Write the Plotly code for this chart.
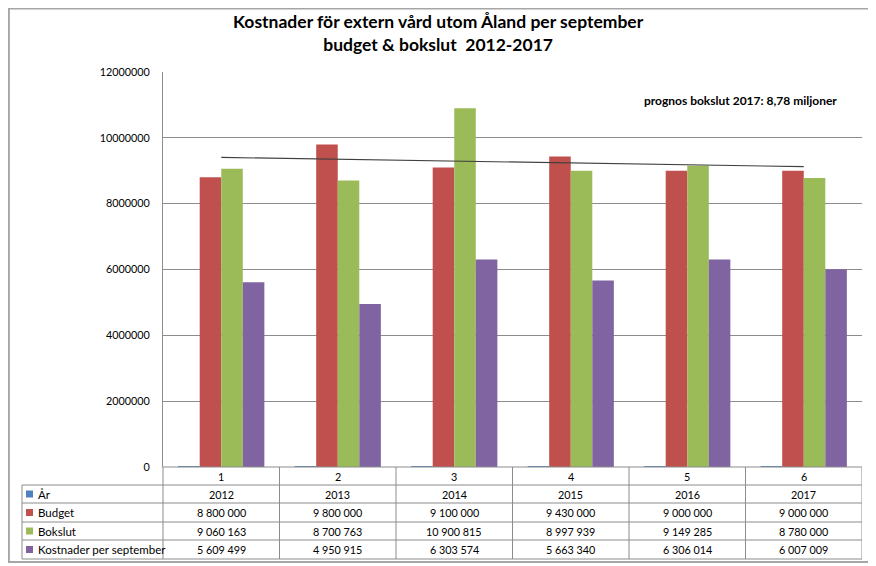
import numpy as np
import plotly.graph_objects as go

W, H = 876, 566
OFF = 8  # sidans marginal i webbläsaren

kategorier = [1, 2, 3, 4, 5, 6]
ar = [2012, 2013, 2014, 2015, 2016, 2017]
budget = [8800000, 9800000, 9100000, 9430000, 9000000, 9000000]
bokslut = [9060163, 8700763, 10900815, 8997939, 9149285, 8780000]
kostnader_sep = [5609499, 4950915, 6303574, 5663340, 6306014, 6007009]

serier = ["År", "Budget", "Bokslut", "Kostnader per september"]
farger = ["#4F81BD", "#C0504D", "#9BBB59", "#8064A2"]
varden = [ar, budget, bokslut, kostnader_sep]

FONT = "Lato"
GRID = "#8C8C8C"


def py(pix):
    return 1 - (pix - OFF) / H


def px_(pix):
    return (pix - OFF) / W


fig = go.Figure()
for namn, farg, v in zip(serier, farger, varden):
    fig.add_trace(go.Bar(x=kategorier, y=v, name=namn, marker_color=farg,
                         marker_line_width=0))

# linjär trend för bokslut
k, m = np.polyfit(kategorier, bokslut, 1)
trend = [k * x + m for x in kategorier]
fig.add_trace(go.Scatter(x=kategorier, y=trend, mode="lines",
                         line=dict(color="#404040", width=1.2), showlegend=False))

fig.update_layout(
    width=W, height=H,
    margin=dict(l=0, r=0, t=0, b=0),
    paper_bgcolor="white", plot_bgcolor="white",
    barmode="group", bargap=0.26, bargroupgap=0,
    showlegend=False,
    font=dict(family=FONT, size=12, color="#000000"),
    xaxis=dict(domain=[px_(163), px_(862)], range=[0.5, 6.5],
               showticklabels=False, showgrid=False, zeroline=False,
               showline=False),
    yaxis=dict(domain=[py(467), py(72)], range=[0, 12000000],
               dtick=2000000, tickformat="d", showgrid=True,
               gridcolor=GRID, gridwidth=1, zeroline=False,
               showline=True, linecolor=GRID, linewidth=1,
               ticks="", ticklabelstandoff=10, automargin=False,
               tickfont=dict(family=FONT, size=10.8, color="#000000")),
)

# titel
fig.add_annotation(x=px_(438), y=py(33), xref="paper", yref="paper",
                   text="<b>Kostnader för extern vård utom Åland per september<br>"
                        "budget &amp; bokslut  2012-2017</b>",
                   showarrow=False, font=dict(family=FONT, size=17.5),
                   align="center", xanchor="center", yanchor="middle")

fig.add_annotation(x=px_(740), y=py(100), xref="paper", yref="paper",
                   text="<b>prognos bokslut 2017: 8,78 miljoner</b>",
                   showarrow=False, font=dict(family=FONT, size=12),
                   xanchor="center", yanchor="middle")

# datatabell
rad_linjer = [485, 503, 522, 540, 559]
linje = dict(color=GRID, width=1)
fig.add_shape(type="line", xref="paper", yref="paper",
              x0=px_(163), x1=px_(862), y0=py(467), y1=py(467), line=linje)
for r in rad_linjer:
    fig.add_shape(type="line", xref="paper", yref="paper",
                  x0=px_(22), x1=px_(862), y0=py(r), y1=py(r), line=linje)
fig.add_shape(type="line", xref="paper", yref="paper",
              x0=px_(22), x1=px_(22), y0=py(485), y1=py(559), line=linje)
fig.add_shape(type="line", xref="paper", yref="paper",
              x0=px_(163), x1=px_(163), y0=py(467), y1=py(559), line=linje)
for c in kategorier:
    fig.add_shape(type="line", xref="x", yref="paper",
                  x0=c + 0.5, x1=c + 0.5, y0=py(467), y1=py(559), line=linje)

rad_mitt = [476, 494, 512.5, 531, 549.5]


def tal(v):
    return f"{v:,}".replace(",", " ")


def cell(x, y, text, xref="x", xanchor="center", size=10.8):
    fig.add_annotation(x=x, y=y, xref=xref, yref="paper", text=text,
                       showarrow=False, xanchor=xanchor, yanchor="middle",
                       font=dict(family=FONT, size=size))


for c in kategorier:
    cell(c, py(rad_mitt[0]), str(c))

for i, (namn, farg, v) in enumerate(zip(serier, farger, varden)):
    yc = py(rad_mitt[i + 1])
    fig.add_shape(type="rect", xref="paper", yref="paper",
                  x0=px_(26), x1=px_(33), y0=yc - 3.5 / H, y1=yc + 3.5 / H,
                  fillcolor=farg, line_width=0)
    cell(px_(36), yc, namn, xref="paper", xanchor="left", size=11.5)
    for c, val in zip(kategorier, v):
        cell(c, yc, str(val) if namn == "År" else tal(val))

# diagramram
ram = dict(color="#A6A6A6", width=2)
fig.add_shape(type="line", xref="paper", yref="paper",
              x0=0.001, x1=0.001, y0=1, y1=py(562), line=ram)
fig.add_shape(type="line", xref="paper", yref="paper",
              x0=0, x1=1, y0=0.999, y1=0.999, line=ram)
fig.add_shape(type="line", xref="paper", yref="paper",
              x0=0, x1=1, y0=py(562), y1=py(562), line=ram)

fig.write_html("out.html")
